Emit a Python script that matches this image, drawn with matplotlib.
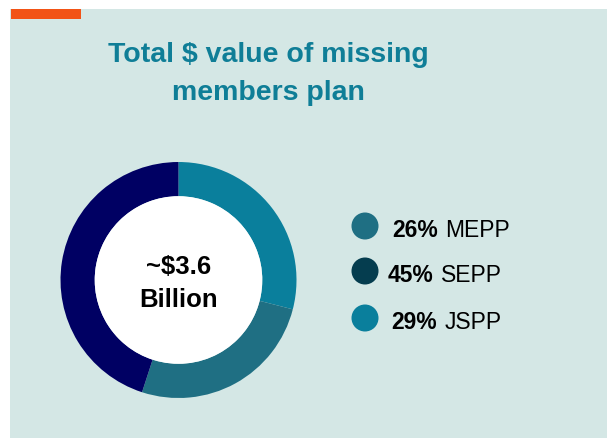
import matplotlib
matplotlib.use("Agg")
import matplotlib.pyplot as plt
from matplotlib.patches import Rectangle, Circle

plt.rcParams['font.family'] = ['Liberation Sans', 'DejaVu Sans']

# data
plans = ['JSPP', 'MEPP', 'SEPP']
shares = [29, 26, 45]
donut_colors = ['#0a7f9c', '#1f6f83', '#000063']

legend_plans = ['MEPP', 'SEPP', 'JSPP']
legend_shares = [26, 45, 29]
legend_colors = ['#1f6f83', '#053d4f', '#0a7f9c']

title_lines = ['Total $ value of missing', 'members plan']
center_lines = ['~$3.6', 'Billion']

W, H = 607, 439
fig = plt.figure(figsize=(W / 100, H / 100), dpi=100)
fig.patch.set_facecolor('white')

# panel background and orange accent bar
fig.patches.append(Rectangle((9.5 / W, 0), 1 - 9.5 / W, 1 - 10 / H,
                             transform=fig.transFigure, facecolor='#d4e7e5',
                             edgecolor='none', zorder=-10))
fig.patches.append(Rectangle((11 / W, 1 - 20 / H), 70 / W, 10 / H,
                             transform=fig.transFigure, facecolor='#f25316',
                             edgecolor='none', zorder=-9))

# donut
cx, cy, r = 178.5, 281, 118
ax = fig.add_axes([(cx - r) / W, (H - cy - r) / H, 2 * r / W, 2 * r / H])
ax.pie(shares, colors=donut_colors, startangle=90, counterclock=False,
       wedgeprops=dict(width=0.29, edgecolor='none'))
ax.add_patch(Circle((0, 0), 0.71, facecolor='white', edgecolor='none'))
ax.set_xlim(-1, 1)
ax.set_ylim(-1, 1)
ax.axis('off')

# overlay axes in pixel units for text and legend
lax = fig.add_axes([0, 0, 1, 1])
lax.set_xlim(0, W)
lax.set_ylim(H, 0)
lax.axis('off')

for line, base in zip(title_lines, [62, 100]):
    lax.text(268, base, line, ha='center', va='baseline', fontsize=20.5,
             fontweight='bold', color='#0f7e97')

for line, base in zip(center_lines, [274, 307]):
    lax.text(cx, base, line, ha='center', va='baseline', fontsize=18.5,
             fontweight='bold', color='black')

rows_y = [227, 272, 319]
text_x = [392, 388, 391]
for i, (name, share, col) in enumerate(zip(legend_plans, legend_shares, legend_colors)):
    lax.add_patch(Circle((365, rows_y[i]), 13.5, facecolor=col, edgecolor='none'))
    t = lax.text(text_x[i], rows_y[i] + 10.5, f'{share}%', ha='left', va='baseline',
                 fontsize=16.5, fontweight='bold', color='black')
    lax.annotate(name, xy=(1, 0), xycoords=t, xytext=(5.5, 0),
                 textcoords='offset points', ha='left', va='bottom',
                 fontsize=16.5, color='black')

fig.savefig('out.png', dpi=100, facecolor=fig.get_facecolor())
